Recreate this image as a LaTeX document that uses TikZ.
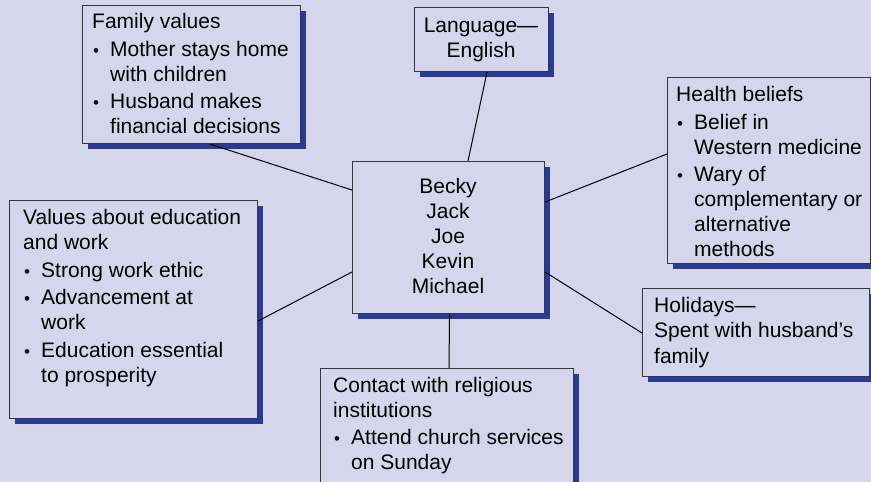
\documentclass[tikz,border=0pt]{standalone}
\usepackage{fontspec}
\setmainfont{Liberation Sans}
\usetikzlibrary{shadows,calc}

\definecolor{bg}{RGB}{213,213,235}
\definecolor{shadowblue}{RGB}{41,57,150}
\definecolor{edge}{RGB}{55,55,60}

% bullet indent and bullet paragraph with hanging indent
\newlength{\bi}
\setlength{\bi}{18bp}
\newcommand{\bpt}[1]{\par\vspace{2.5bp}\hangindent=\bi\hangafter=1\noindent
  \makebox[\bi][l]{\hspace{1bp}{\fontsize{17bp}{25bp}\selectfont •}}\begingroup\let\\\newline #1\endgroup}
\newcommand{\boxtext}[2]{\parbox[t]{#1}{\raggedright\fontsize{21bp}{25bp}\selectfont #2}}

\tikzset{
  card/.style={draw=edge, line width=1.1bp, fill=bg, inner sep=0pt, anchor=north west,
    drop shadow={shadow xshift=5bp, shadow yshift=-5bp, fill=shadowblue, opacity=1}},
  label/.style={inner sep=0pt, anchor=base west},
  link/.style={draw=black, line width=1bp},
}

\begin{document}
\begin{tikzpicture}[x=1bp, y=-1bp]
  \fill[bg] (0,0) rectangle (871,482);
  \useasboundingbox (0,0) rectangle (871,482);
  \clip (0,0) rectangle (871,482);

  % boxes
  \node[card, minimum width=218bp, minimum height=138bp] (fam)  at (82,5)    {};
  \node[card, minimum width=134bp, minimum height=64bp]  (lang) at (414,7)   {};
  \node[card, minimum width=192bp, minimum height=152bp] (ctr)  at (352,161) {};
  \node[card, minimum width=203bp, minimum height=186bp] (hlth) at (667,77)  {};
  \node[card, minimum width=248bp, minimum height=218bp] (edu)  at (9,200)   {};
  \node[card, minimum width=253bp, minimum height=130bp] (rel)  at (320,368) {};
  \node[card, minimum width=227bp, minimum height=88bp]  (hol)  at (642,288) {};

  % connectors from the centre box
  \draw[link] ($(fam.south west)+(128,0)$) -- ($(ctr.north west)+(0,29)$);
  \draw[link] ($(lang.south west)+(73,0)$) -- ($(ctr.north west)+(116,0)$);
  \draw[link] ($(hlth.north west)+(0,77)$) -- ($(ctr.north east)+(0,41)$);
  \draw[link] ($(edu.north east)+(0,121)$) -- ($(ctr.north west)+(0,111)$);
  \draw[link] ($(hol.north west)+(0,45)$) -- ($(ctr.north east)+(0,111)$);
  \draw[link] ($(ctr.south)+(1,0)$) -- ($(rel.north west)+(129,0)$);

  % texts
  \node[label] (famtxt) at (92,29) {\boxtext{205bp}{Family values
    \bpt{Mother stays home\\with children}
    \bpt{Husband makes\\financial decisions}}};

  \node[inner sep=0pt, anchor=base] (langtxt) at (481,33) {\boxtext{130bp}{\centering Language—\\English}};

  \node[inner sep=0pt, anchor=base] (ctrtxt) at (448,194) {\boxtext{180bp}{\centering Becky\\Jack\\Joe\\Kevin\\Michael}};

  \node[label] (hlthtxt) at (676,102) {\boxtext{195bp}{Health beliefs
    \bpt{Belief in\\Western medicine}
    \bpt{Wary of\\complementary or\\alternative\\methods}}};

  \node[label] (edutxt) at (23,225) {\boxtext{235bp}{Values about education\\and work
    \bpt{Strong work ethic}
    \bpt{Advancement at\\work}
    \bpt{Education essential\\to prosperity}}};

  \node[label] (reltxt) at (333,392) {\boxtext{240bp}{Contact with religious\\institutions
    \bpt{Attend church services\\on Sunday}}};

  \node[label] (holtxt) at (654,313) {\boxtext{215bp}{Holidays—\\Spent with husband’s\\family}};
\end{tikzpicture}
\end{document}
